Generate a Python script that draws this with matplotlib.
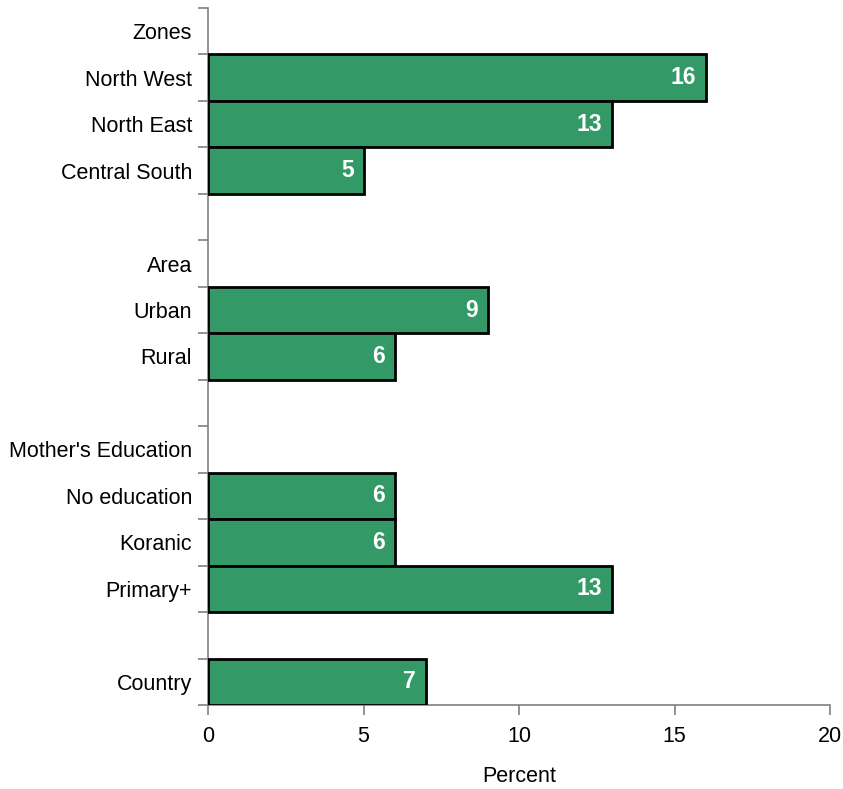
import matplotlib
matplotlib.use("Agg")
import matplotlib.pyplot as plt
import numpy as np

plt.rcParams['font.family'] = ['Liberation Sans', 'DejaVu Sans']

categories = ["Zones", "North West", "North East", "Central South", "",
              "Area", "Urban", "Rural", "",
              "Mother's Education", "No education", "Koranic", "Primary+", "",
              "Country"]
values = [None, 16, 13, 5, None,
          None, 9, 6, None,
          None, 6, 6, 13, None,
          7]

fig = plt.figure(figsize=(8.43, 7.89), dpi=100)
ax = fig.add_axes([208 / 843, 84 / 789, 622 / 843, 697 / 789])

n = len(categories)
ypos = np.arange(n)
green = "#339966"
grey = "#808080"
fs = 15.5

for y, v in zip(ypos, values):
    if v is None:
        continue
    ax.barh(y, v, height=1.0, color=green, edgecolor="black", linewidth=2, zorder=3)
    ax.annotate(f"{v}", xy=(v, y), xytext=(-10, 0), textcoords="offset pixels",
                ha="right", va="center", color="white", fontsize=16.5,
                fontweight="bold", zorder=4)

ax.set_ylim(n - 0.5, -0.5)
ax.set_xlim(0, 20)
ax.set_xticks([0, 5, 10, 15, 20])
ax.set_yticks(ypos)
ax.set_yticklabels(categories)
ax.set_yticks(np.arange(-0.5, n, 1.0), minor=True)
ax.tick_params(axis="y", which="major", length=0, pad=11.5, labelsize=fs)
ax.tick_params(axis="y", which="minor", length=7, width=1.2, color=grey, direction="out")
ax.tick_params(axis="x", length=7, width=1.2, color=grey, direction="out",
               labelsize=fs, pad=8)

for side in ["top", "right"]:
    ax.spines[side].set_visible(False)
for side in ["left", "bottom"]:
    ax.spines[side].set_color(grey)
    ax.spines[side].set_linewidth(1.2)

ax.set_xlabel("Percent", fontsize=fs, labelpad=14)

fig.savefig("out.png", dpi=100)
